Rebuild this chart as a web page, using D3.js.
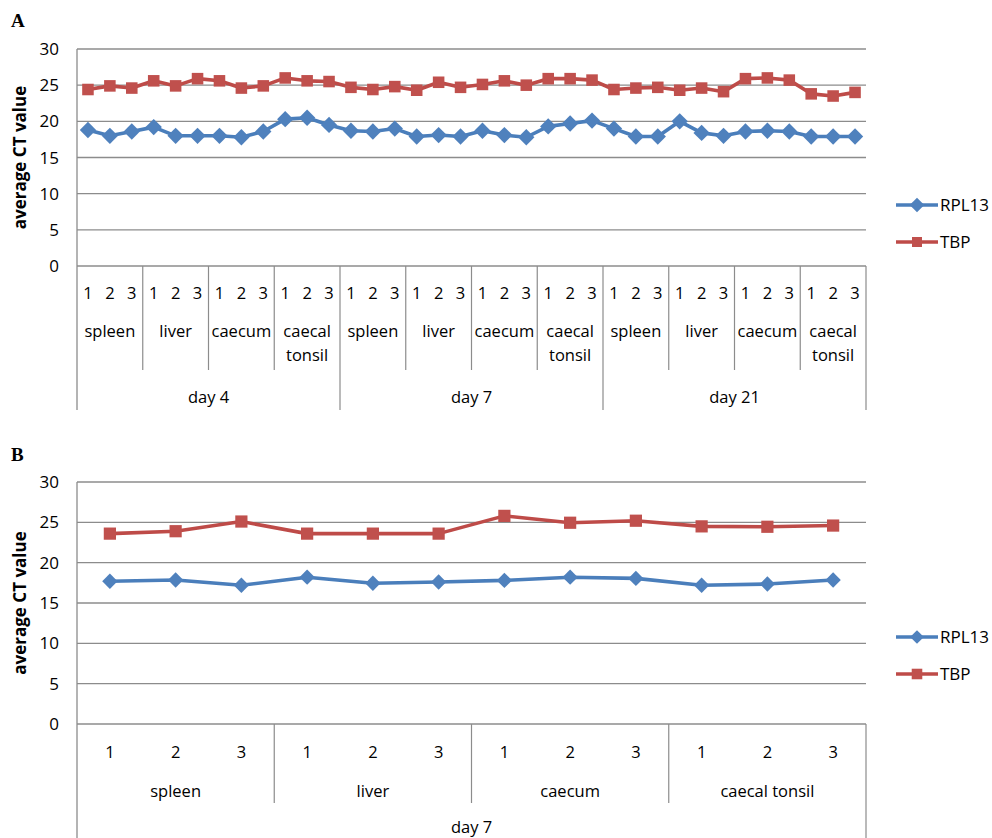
<!DOCTYPE html>
<html>
<head>
<meta charset="utf-8">
<script src="https://cdn.jsdelivr.net/npm/d3@7"></script>
<style>
  body { margin: 0; background: #fff; }
  svg { display: block; }
  text { font-family: "Open Sans", "Noto Sans", sans-serif; fill: #000; }
</style>
</head>
<body>
<svg id="chart" width="992" height="838"></svg>
<script>
// Reference-gene Ct values (RPL13 and TBP) per tissue, replicate and day
const days = ["day 4", "day 7", "day 21"];
const organs = ["spleen", "liver", "caecum", "caecal tonsil"];
const replicates = ["1", "2", "3"];
const yTicks = [0, 5, 10, 15, 20, 25, 30];
const seriesNames = ["RPL13", "TBP"];

// Panel A: days 4, 7 and 21 (36 samples)
const rpl13A = [
  18.8, 18.0, 18.6, 19.2, 18.0, 18.0, 18.0, 17.8, 18.6, 20.3, 20.5, 19.5,
  18.7, 18.6, 19.0, 17.9, 18.1, 17.9, 18.7, 18.1, 17.8, 19.3, 19.7, 20.1,
  19.0, 17.9, 17.9, 20.0, 18.4, 18.0, 18.6, 18.7, 18.6, 17.9, 17.9, 17.9
];
const tbpA = [
  24.4, 24.9, 24.6, 25.6, 24.9, 25.9, 25.6, 24.6, 24.9, 26.0, 25.6, 25.5,
  24.7, 24.4, 24.8, 24.3, 25.4, 24.7, 25.1, 25.6, 25.0, 25.9, 25.9, 25.7,
  24.4, 24.6, 24.7, 24.3, 24.6, 24.1, 25.9, 26.0, 25.7, 23.8, 23.5, 24.0
];

// Panel B: day 7 only (12 samples)
const rpl13B = [17.7, 17.85, 17.2, 18.2, 17.45, 17.6, 17.8, 18.2, 18.05, 17.2, 17.35, 17.85];
const tbpB = [23.6, 23.9, 25.1, 23.6, 23.6, 23.6, 25.8, 24.95, 25.2, 24.5, 24.45, 24.6];

const colors = {
  RPL13: { line: "#4A7EBB", mark: "#4F81BD" },
  TBP: { line: "#BE4B48", mark: "#C0504D" }
};
const gridColor = "#8c8c8c";

const svg = d3.select("#chart");

function drawPanel(cfg) {
  const g = svg.append("g");
  const { left, right, top, bottom, dayList, values, legendY } = cfg;

  // flat list of sample keys: day / organ / replicate
  const samples = [];
  dayList.forEach(d => organs.forEach(o => replicates.forEach(r => samples.push({ d, o, r }))));

  const x = d3.scaleBand().domain(d3.range(samples.length)).range([left, right]).paddingInner(0).paddingOuter(0);
  const y = d3.scaleLinear().domain([0, 30]).range([bottom, top]);
  const cx = i => x(i) + x.bandwidth() / 2;

  // horizontal gridlines
  g.selectAll("line.grid").data(yTicks.filter(t => t > 0)).join("line")
    .attr("x1", left).attr("x2", right)
    .attr("y1", d => y(d)).attr("y2", d => y(d))
    .attr("stroke", gridColor).attr("stroke-width", 1.3);

  // y axis labels
  g.selectAll("text.ytick").data(yTicks).join("text")
    .attr("x", left - 18).attr("y", d => y(d))
    .attr("dy", "0.36em").attr("text-anchor", "end")
    .style("font-size", "17px").text(d => d);

  // y axis title
  g.append("text")
    .attr("transform", `translate(${cfg.titleX},${(top + bottom) / 2}) rotate(-90)`)
    .attr("text-anchor", "middle").attr("dy", "0.35em")
    .style("font-size", "17px").style("font-weight", "bold")
    .text("average CT value");

  // category axis: baseline, left axis, group and day separators
  const organRowBottom = bottom + cfg.organSepLen;
  const dayRowBottom = bottom + cfg.daySepLen;
  g.append("line").attr("x1", left).attr("x2", right).attr("y1", bottom).attr("y2", bottom)
    .attr("stroke", gridColor).attr("stroke-width", 1.6);
  g.append("line").attr("x1", left).attr("x2", left).attr("y1", top).attr("y2", dayRowBottom)
    .attr("stroke", gridColor).attr("stroke-width", 1.3);

  const nPerOrgan = replicates.length;
  const nPerDay = organs.length * nPerOrgan;
  const organEdges = d3.range(1, samples.length / nPerOrgan).map(k => k * nPerOrgan);
  g.selectAll("line.osep").data(organEdges.filter(k => k % nPerDay !== 0)).join("line")
    .attr("x1", k => x(k)).attr("x2", k => x(k))
    .attr("y1", bottom).attr("y2", organRowBottom)
    .attr("stroke", gridColor).attr("stroke-width", 1.2);
  const dayEdges = d3.range(1, dayList.length + 1).map(k => k * nPerDay);
  g.selectAll("line.dsep").data(dayEdges).join("line")
    .attr("x1", k => (k >= samples.length ? right : x(k))).attr("x2", k => (k >= samples.length ? right : x(k)))
    .attr("y1", bottom).attr("y2", dayRowBottom)
    .attr("stroke", gridColor).attr("stroke-width", 1.2);

  // replicate numbers
  g.selectAll("text.rep").data(samples).join("text")
    .attr("x", (d, i) => cx(i)).attr("y", bottom + cfg.repY)
    .attr("dy", "0.36em").attr("text-anchor", "middle")
    .style("font-size", "16.5px").text(d => d.r);

  // organ labels (wrapped when the group is too narrow)
  const groupW = x.bandwidth() * nPerOrgan;
  d3.range(samples.length / nPerOrgan).forEach(k => {
    const s = samples[k * nPerOrgan];
    const mid = x(k * nPerOrgan) + groupW / 2;
    const t = g.append("text").attr("x", mid).attr("y", bottom + cfg.organY)
      .attr("text-anchor", "middle").style("font-size", "16.5px");
    if (cfg.wrapOrgans && s.o.includes(" ")) {
      s.o.split(" ").forEach((w, j) => t.append("tspan").attr("x", mid).attr("dy", j ? 24 : 0).text(w));
    } else {
      t.text(s.o);
    }
  });

  // day labels
  dayList.forEach((d, k) => {
    const x0 = x(k * nPerDay);
    const x1 = (k + 1) * nPerDay >= samples.length ? right : x((k + 1) * nPerDay);
    g.append("text").attr("x", (x0 + x1) / 2).attr("y", bottom + cfg.dayY)
      .attr("text-anchor", "middle").style("font-size", "16.5px").text(d);
  });

  // series lines and markers
  const line = d3.line().x((d, i) => cx(i)).y(d => y(d));
  const diamond = d3.symbol().type(d3.symbolDiamond2).size(cfg.diamondSize)();
  const square = d3.symbol().type(d3.symbolSquare2).size(cfg.squareSize)();

  seriesNames.forEach((name, si) => {
    const vals = values[name];
    g.append("path").datum(vals).attr("d", line)
      .attr("fill", "none").attr("stroke", colors[name].line)
      .attr("stroke-width", 3.6).attr("stroke-linejoin", "round");
    g.selectAll(`path.m${si}`).data(vals).join("path")
      .attr("transform", (d, i) => `translate(${cx(i)},${y(d)})`)
      .attr("d", name === "RPL13" ? diamond : square)
      .attr("fill", colors[name].mark);
  });

  // legend
  seriesNames.forEach((name, si) => {
    const ly = legendY[si];
    g.append("line").attr("x1", 896).attr("x2", 938).attr("y1", ly).attr("y2", ly)
      .attr("stroke", colors[name].line).attr("stroke-width", 3.6);
    g.append("path").attr("transform", `translate(917,${ly})`)
      .attr("d", name === "RPL13" ? d3.symbol().type(d3.symbolDiamond2).size(cfg.diamondSize * 0.8)()
                                  : d3.symbol().type(d3.symbolSquare2).size(cfg.squareSize * 0.75)())
      .attr("fill", colors[name].mark);
    g.append("text").attr("x", 940).attr("y", ly).attr("dy", "0.36em")
      .style("font-size", "17px").text(name);
  });

  // panel letter
  svg.append("text").attr("x", 11).attr("y", cfg.letterY)
    .style("font-family", "'Liberation Serif', 'DejaVu Serif', serif")
    .style("font-weight", "bold").style("font-size", "19px").text(cfg.letter);
}

drawPanel({
  letter: "A", letterY: 27,
  left: 77, right: 866, top: 49, bottom: 266,
  titleX: 20,
  dayList: days,
  values: { RPL13: rpl13A, TBP: tbpA },
  organSepLen: 104, daySepLen: 144,
  repY: 27, organY: 71, dayY: 137,
  wrapOrgans: true,
  diamondSize: 170, squareSize: 170,
  legendY: [205, 242]
});

drawPanel({
  letter: "B", letterY: 461,
  left: 77, right: 866, top: 482, bottom: 724,
  titleX: 20,
  dayList: ["day 7"],
  values: { RPL13: rpl13B, TBP: tbpB },
  organSepLen: 79, daySepLen: 120,
  repY: 28, organY: 73, dayY: 109,
  wrapOrgans: false,
  diamondSize: 150, squareSize: 190,
  legendY: [637, 674]
});
</script>
</body>
</html>
